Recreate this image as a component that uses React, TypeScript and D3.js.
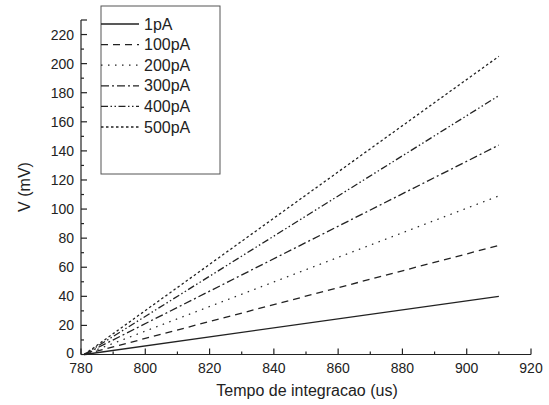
import React, { useEffect, useRef } from 'react';
import * as d3 from 'd3';

// series: start and end of each integration ramp
const seriesNames = ['1pA', '100pA', '200pA', '300pA', '400pA', '500pA'];
const timeUs = [781, 910];
const voltages = [
  [0, 40],
  [0, 75],
  [0, 109],
  [0, 144],
  [0, 178],
  [0, 205],
];
const dashes = ['none', '7,5', '1.5,5.5', '8,3,2,3', '7,2.5,1.5,2.5,1.5,2.5', '2.5,2.5'];
const xTicks = [780, 800, 820, 840, 860, 880, 900, 920];
const yTicks = [0, 20, 40, 60, 80, 100, 120, 140, 160, 180, 200, 220];

const App = () => {
  const ref = useRef<SVGSVGElement>(null);

  useEffect(() => {
    const svg = d3.select(ref.current);
    svg.selectAll('*').remove();

    const x = d3.scaleLinear().domain([780, 920]).range([81, 531]);
    const y = d3.scaleLinear().domain([0, 230]).range([354.5, 20]);
    const ink = '#222';
    const font = "'Liberation Sans', Arial, sans-serif";

    // lines
    const line = d3.line<[number, number]>().x(d => x(d[0])).y(d => y(d[1]));
    voltages.forEach((v, i) => {
      const pts = timeUs.map((t, j) => [t, v[j]] as [number, number]);
      svg.append('path')
        .attr('d', line(pts))
        .attr('fill', 'none')
        .attr('stroke', ink)
        .attr('stroke-width', 1.3)
        .attr('stroke-dasharray', dashes[i]);
    });

    // x axis
    const gx = svg.append('g');
    gx.append('line').attr('x1', x(780)).attr('x2', x(920)).attr('y1', y(0)).attr('y2', y(0))
      .attr('stroke', ink).attr('stroke-width', 1.2);
    d3.range(780, 921, 10).forEach(t => {
      const major = t % 20 === 0;
      gx.append('line').attr('x1', x(t)).attr('x2', x(t)).attr('y1', y(0)).attr('y2', y(0) - (major ? 6 : 3))
        .attr('stroke', ink).attr('stroke-width', 1.2);
    });
    xTicks.forEach(t => {
      gx.append('text').attr('x', x(t)).attr('y', 373).attr('text-anchor', 'middle')
        .attr('font-family', font).attr('font-size', 14).attr('fill', ink).text(t);
    });

    // y axis
    const gy = svg.append('g');
    gy.append('line').attr('x1', x(780)).attr('x2', x(780)).attr('y1', y(0)).attr('y2', y(230))
      .attr('stroke', ink).attr('stroke-width', 1.2);
    d3.range(0, 231, 10).forEach(v => {
      const major = v % 20 === 0 || v === 230;
      gy.append('line').attr('x1', x(780)).attr('x2', x(780) + (major ? 6 : 3)).attr('y1', y(v)).attr('y2', y(v))
        .attr('stroke', ink).attr('stroke-width', 1.2);
    });
    yTicks.forEach(v => {
      gy.append('text').attr('x', 74).attr('y', y(v) + (v === 0 ? 3.5 : 5)).attr('text-anchor', 'end')
        .attr('font-family', font).attr('font-size', 14).attr('fill', ink).text(v);
    });

    // titles
    svg.append('text').attr('x', 307).attr('y', 396).attr('text-anchor', 'middle')
      .attr('font-family', font).attr('font-size', 16).attr('fill', ink).text('Tempo de integracao (us)');
    svg.append('text').attr('transform', 'translate(30,187) rotate(-90)').attr('text-anchor', 'middle')
      .attr('font-family', font).attr('font-size', 16).attr('fill', ink).text('V (mV)');

    // legend
    const lg = svg.append('g');
    lg.append('rect').attr('x', 101).attr('y', 6).attr('width', 119).attr('height', 168)
      .attr('fill', 'white').attr('stroke', '#555').attr('stroke-width', 1);
    seriesNames.forEach((name, i) => {
      const cy = 24 + i * 20.6;
      lg.append('line').attr('x1', 101).attr('x2', 139).attr('y1', cy).attr('y2', cy)
        .attr('stroke', ink).attr('stroke-width', 1.3).attr('stroke-dasharray', dashes[i]);
      lg.append('text').attr('x', 144).attr('y', cy + 5.5)
        .attr('font-family', font).attr('font-size', 16).attr('fill', ink).text(name);
    });
  }, []);

  return (
    <svg ref={ref} width={549} height={405}
      style={{ position: 'absolute', left: 0, top: 0, background: 'white' }} />
  );
};

export default App;
